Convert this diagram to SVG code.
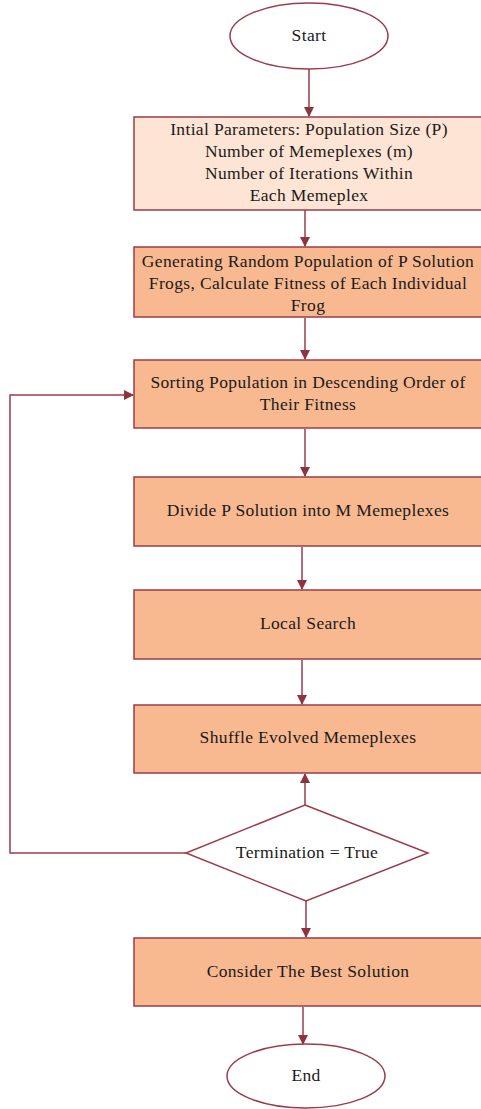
<svg xmlns="http://www.w3.org/2000/svg" width="481" height="1109" viewBox="0 0 481 1109">
<style>
.box{fill:#F8B991;stroke:#9A3D48;stroke-width:1.5}
.lbox{fill:#FDE4D4;stroke:#9A3D48;stroke-width:1.5}
.term{fill:#fff;stroke:#9A3D48;stroke-width:1.5}
.t{font-family:"Liberation Serif",serif;font-size:17.5px;letter-spacing:0.35px;fill:#1a1a1a;text-anchor:middle}
.c{fill:none;stroke:#9A3D48;stroke-width:1.5}
</style>
<defs>
<marker id="ah" markerWidth="10" markerHeight="12" refX="9" refY="5" orient="auto" markerUnits="userSpaceOnUse">
<path d="M0,0 L10,5 L0,10 z" fill="#8E3340"/>
</marker>
</defs>
<g id="connectors">
<line class="c" x1="309" y1="69" x2="309" y2="116" marker-end="url(#ah)"/>
<line class="c" x1="305" y1="210" x2="305" y2="246" marker-end="url(#ah)"/>
<line class="c" x1="305" y1="318" x2="305" y2="359" marker-end="url(#ah)"/>
<line class="c" x1="305" y1="429" x2="305" y2="476" marker-end="url(#ah)"/>
<line class="c" x1="302" y1="547" x2="302" y2="589" marker-end="url(#ah)"/>
<line class="c" x1="302" y1="660" x2="302" y2="704" marker-end="url(#ah)"/>
<line class="c" x1="305" y1="805" x2="305" y2="774" marker-end="url(#ah)"/>
<line class="c" x1="306" y1="901" x2="306" y2="937" marker-end="url(#ah)"/>
<line class="c" x1="303" y1="1007" x2="303" y2="1044" marker-end="url(#ah)"/>
<polyline class="c" points="186,853 10,853 10,395 133,395" marker-end="url(#ah)"/>
</g>
<g id="start"><ellipse class="term" cx="309" cy="36" rx="79" ry="33"/><text class="t" x="309" y="41">Start</text></g>
<g id="init"><rect class="lbox" x="134" y="117" width="350" height="93"/>
<text class="t" x="309" y="135">Intial Parameters: Population Size (P)</text>
<text class="t" x="309" y="157">Number of Memeplexes (m)</text>
<text class="t" x="309" y="179">Number of Iterations Within</text>
<text class="t" x="309" y="201">Each Memeplex</text></g>
<g id="generate"><rect class="box" x="134" y="247" width="350" height="70"/>
<text class="t" x="308" y="267">Generating Random Population of P Solution</text>
<text class="t" x="308" y="289">Frogs, Calculate Fitness of Each Individual</text>
<text class="t" x="308" y="311">Frog</text></g>
<g id="sort"><rect class="box" x="134" y="360" width="350" height="68"/>
<text class="t" x="308" y="388">Sorting Population in Descending Order of</text>
<text class="t" x="308" y="410">Their Fitness</text></g>
<g id="divide"><rect class="box" x="134" y="477" width="350" height="69"/>
<text class="t" x="308" y="516">Divide P Solution into M Memeplexes</text></g>
<g id="local"><rect class="box" x="134" y="590" width="350" height="69"/>
<text class="t" x="308" y="629">Local Search</text></g>
<g id="shuffle"><rect class="box" x="134" y="705" width="350" height="68"/>
<text class="t" x="308" y="743">Shuffle Evolved Memeplexes</text></g>
<g id="termination"><polygon class="term" points="305,805 428,853 306,901 186,853"/>
<text class="t" x="307" y="858">Termination = True</text></g>
<g id="best"><rect class="box" x="134" y="938" width="350" height="68"/>
<text class="t" x="308" y="977">Consider The Best Solution</text></g>
<g id="end"><ellipse class="term" cx="306" cy="1076" rx="79" ry="32"/><text class="t" x="306" y="1081">End</text></g>
</svg>
